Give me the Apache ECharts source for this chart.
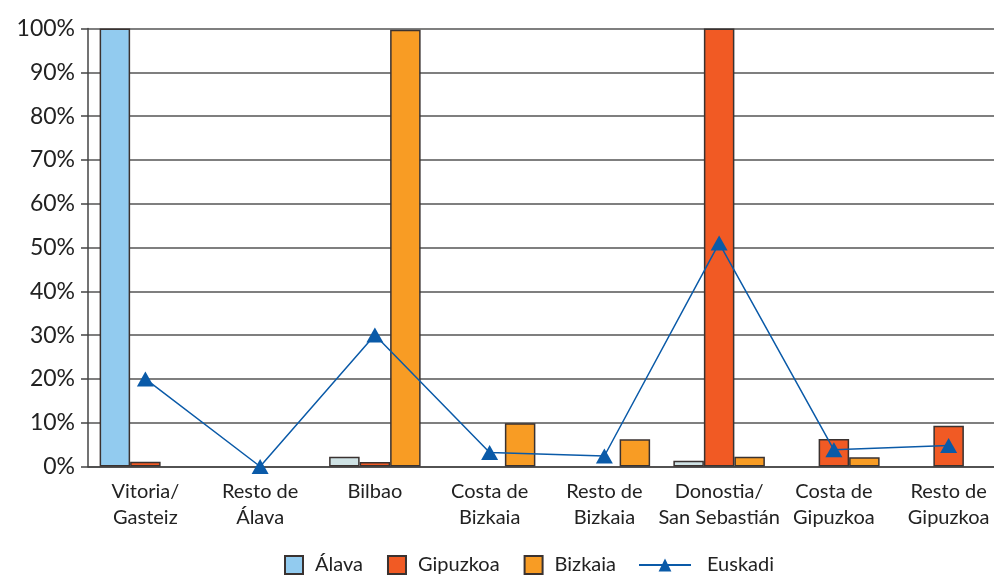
<!DOCTYPE html>
<html>
<head>
    <meta charset="utf-8">
    <title>ECharts</title>
    <script src="https://cdn.jsdelivr.net/npm/echarts@6/dist/echarts.min.js"></script>
    <style type="text/css">
        html, body { margin: 0; padding: 0; background: #fff; }
        #main { width: 994px; height: 576px; }
    </style>
</head>
<body>
<div id="main"></div>
<script type="text/javascript">
    // categorias (comarcas)
    var categories = ['Vitoria/\nGasteiz', 'Resto de\nÁlava', 'Bilbao', 'Costa de\nBizkaia',
        'Resto de\nBizkaia', 'Donostia/\nSan Sebastián', 'Costa de\nGipuzkoa', 'Resto de\nGipuzkoa'];
    var seriesNames = ['Álava', 'Gipuzkoa', 'Bizkaia', 'Euskadi'];
    // null = sin barra
    var alava = [100, null, 2.2, null, null, 1.3, null, null];
    var gipuzkoa = [1.1, null, 1.0, null, null, 100, 6.3, 9.3];
    var bizkaia = [null, null, 99.7, 9.9, 6.2, 2.2, 2.1, null];
    var euskadi = [20, 0, 30, 3.2, 2.4, 51, 3.8, 4.8];

    var colAlava = '#92cbef';
    var colAlavaPale = '#cfe2e4';
    var colGipuzkoa = '#f15a24';
    var colBizkaia = '#f89c24';
    var colEuskadi = '#0a5aa8';
    var fontFam = 'Lato, "DejaVu Sans", sans-serif';

    var barBorder = {borderColor: '#3a3230', borderWidth: 1.5};

    function bars(arr) {
        return arr.map(function (v) { return v === null ? '-' : v; });
    }

    // las barras pequeñas de Álava salen en tono pálido
    var alavaData = bars(alava).map(function (v, i) {
        return (i === 0 || v === '-') ? v : {value: v, itemStyle: {color: colAlavaPale}};
    });

    var legendText = {fontSize: 20, color: '#222', fontFamily: fontFam, padding: [0, 0, 0, 7]};

    var chart = echarts.init(document.getElementById('main'));
    chart.setOption({
        animation: false,
        textStyle: {fontFamily: fontFam},
        grid: {left: 88, width: 918, top: 28.5, bottom: 109.5, containLabel: false, outerBoundsMode: 'none'},
        legend: [
            {
                data: [
                    {name: 'Álava', icon: 'rect', itemStyle: {color: colAlava}},
                    {name: 'Gipuzkoa', icon: 'rect'},
                    {name: 'Bizkaia', icon: 'rect'}
                ],
                bottom: -4,
                left: 279,
                itemGap: 24,
                itemWidth: 18,
                itemHeight: 18,
                textStyle: legendText
            },
            {
                data: ['Euskadi'],
                bottom: -4,
                left: 633,
                itemWidth: 52,
                itemHeight: 16,
                textStyle: Object.assign({}, legendText, {padding: [0, 0, 0, 11]})
            }
        ],
        xAxis: {
            type: 'category',
            data: categories,
            axisLine: {show: true, lineStyle: {color: '#444', width: 1.5}},
            axisTick: {show: false},
            axisLabel: {interval: 0, fontSize: 20, color: '#222', lineHeight: 26, margin: 12, fontFamily: fontFam}
        },
        yAxis: {
            type: 'value',
            min: 0,
            max: 100,
            interval: 10,
            axisLine: {show: true, lineStyle: {color: '#444', width: 1.5}},
            axisTick: {show: true, length: 7, lineStyle: {color: '#444', width: 1.5}},
            axisLabel: {formatter: '{value}%', fontSize: 23, color: '#222', margin: 13, fontFamily: fontFam},
            splitLine: {show: true, lineStyle: {color: '#555', width: 1.5}}
        },
        series: [
            {
                name: seriesNames[0], type: 'bar', data: alavaData,
                barWidth: 30.5, barGap: '0%',
                itemStyle: Object.assign({color: colAlava}, barBorder)
            },
            {
                name: seriesNames[1], type: 'bar', data: bars(gipuzkoa),
                barWidth: 30.5, barGap: '0%',
                itemStyle: Object.assign({color: colGipuzkoa}, barBorder)
            },
            {
                name: seriesNames[2], type: 'bar', data: bars(bizkaia),
                barWidth: 30.5, barGap: '0%',
                itemStyle: Object.assign({color: colBizkaia}, barBorder)
            },
            {
                name: seriesNames[3], type: 'line', data: euskadi,
                symbol: 'triangle', symbolSize: [17, 15],
                lineStyle: {color: colEuskadi, width: 1.5},
                itemStyle: {color: colEuskadi},
                z: 5
            }
        ]
    });
</script>
</body>
</html>
